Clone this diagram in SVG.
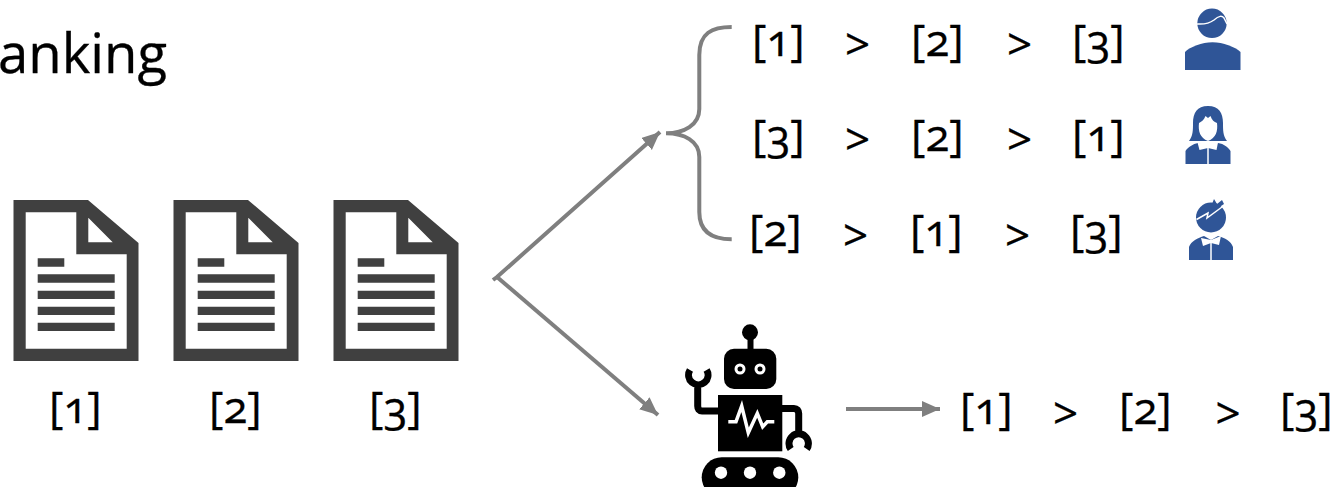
<svg xmlns="http://www.w3.org/2000/svg" width="1337" height="487" viewBox="0 0 1337 487">
<defs>
<style>
text{font-family:"Open Sans","Noto Sans","Liberation Sans",sans-serif;fill:#000;stroke:#000;stroke-width:.3px;font-size:44px;font-feature-settings:"onum";font-variant-numeric:oldstyle-nums}
.c{fill:none;stroke:#7f7f7f;stroke-width:4}
.b{fill:#2f5597}
.w{fill:none;stroke:#fff;stroke-width:1.5}
.d{fill:#404040}
.r{fill:#000}
</style>
<marker id="a" markerUnits="userSpaceOnUse" markerWidth="20" markerHeight="18" refX="18" refY="8" orient="auto"><path d="M0 0L18 8L0 16z" fill="#7f7f7f"/></marker>
<g id="docshape"><path class="d" fill-rule="evenodd" d="M13.5 200H88L138.5 243V361H13.5zM25.7 212.3V348.7H126.7V254.3H76.3V212.3zM88.3 217.7V242.3H112.7z"/><path class="d" d="M37.7 258.3H64.3V266.7H37.7zM37.7 274.3H114.7V282.7H37.7zM37.7 290.7H114.7V299H37.7zM37.7 306.7H114.7V315H37.7zM37.7 322.7H114.7V331H37.7z"/></g>
</defs>
<rect width="1337" height="487" fill="#fff"/>
<text id="title" x="-2" y="73" style="font-size:54.500px">anking</text>
<g id="connectors">
<path class="c" marker-end="url(#a)" d="M493 280L497 277L660 132"/>
<path class="c" marker-end="url(#a)" d="M497 277L658 415"/>
<path class="c" marker-end="url(#a)" d="M846 409H940"/>
<path class="c" d="M731.700 27C712 27 699.300 33 699.300 55V109C699.300 125 684 133.300 666 133.300C684 133.300 699.300 141 699.300 157V212C699.300 232 712 239.300 731.700 239.300"/>
</g>
<g id="doc1"><use href="#docshape"/><text x="49" y="423">[1]</text></g>
<g id="doc2"><use href="#docshape" x="160"/><text x="209" y="423">[2]</text></g>
<g id="doc3"><use href="#docshape" x="320"/><text x="369" y="423">[3]</text></g>
<g id="rank1"><text x="752" y="55.500">[1]</text><text x="845" y="59.500">&gt;</text><text x="911" y="55.500">[2]</text><text x="1007" y="59.500">&gt;</text><text x="1072" y="55.500">[3]</text></g>
<g id="rank2"><text x="752" y="151">[3]</text><text x="845" y="154.500">&gt;</text><text x="911" y="151">[2]</text><text x="1007" y="154.500">&gt;</text><text x="1072" y="151">[1]</text></g>
<g id="rank3"><text x="749" y="246">[2]</text><text x="843" y="250.500">&gt;</text><text x="910" y="246">[1]</text><text x="1005" y="250.500">&gt;</text><text x="1070" y="246">[3]</text></g>
<g id="rank4"><text x="960" y="424">[1]</text><text x="1053" y="428.500">&gt;</text><text x="1119" y="424">[2]</text><text x="1215.500" y="428.500">&gt;</text><text x="1280" y="424">[3]</text></g>
<g id="person1"><circle class="b" cx="1212" cy="23.300" r="14.700"/><path class="b" d="M1185 70V52C1190 47 1202 42.300 1212.500 42.300S1235 47 1240.500 52V70z"/><path class="w" d="M1197 24C1204 24.500 1210 23 1214 20C1219 15.500 1222 15.500 1224 18L1227 24"/></g>
<g id="person2"><path class="b" d="M1208 106C1197 106 1193 113 1193 123C1193 130 1193 136 1189 141H1227C1223 136 1223 130 1223 123C1223 113 1219 106 1208 106z"/><path fill="#fff" d="M1199 123C1201 122 1204 120 1205.500 116L1208 118L1210.500 116C1212 120 1214 122 1217 123C1218 131 1216 138 1208 141C1200 138 1198 131 1199 123z"/><path class="b" d="M1185.500 164V151C1188 147 1193 144 1198 143L1208 147L1218 143C1224 144 1228 147 1230.500 151V164z"/><path fill="#fff" d="M1197.500 142.500L1208 145.500L1218 142.500L1216.500 150L1208 148L1199.500 150z"/><path class="w" d="M1208 148V164"/></g>
<g id="person3"><circle class="b" cx="1211" cy="217.500" r="15"/><path class="b" d="M1212 204L1214 199L1217 204L1222 200L1224 204L1218 208z"/><path class="w" d="M1196.500 219.500L1208 213L1207 218L1222 207"/><path class="b" d="M1189 260V247C1191 241 1198 238 1204 236L1211 240L1218 236C1225 238 1231 241 1233 247V260z"/><path fill="#fff" d="M1201 238L1211 240L1221 236L1219 245L1211 243L1203 246z"/><path class="w" d="M1211 243V260"/></g>
<g id="robot">
<circle class="r" cx="750" cy="332.300" r="8"/><path class="r" d="M747.500 335H753.500V350H747.500z"/>
<rect class="r" x="724" y="348.700" width="52.300" height="40.300" rx="10"/>
<circle cx="740" cy="369" r="5.500" fill="#fff"/><circle class="r" cx="740" cy="369" r="2.500"/><circle cx="760" cy="369" r="5.500" fill="#fff"/><circle class="r" cx="760" cy="369" r="2.500"/>
<rect class="r" x="718" y="395" width="64.300" height="56.300"/>
<path d="M728.300 421.700H736L741.700 406L748.300 432.700L757.300 413.300L762.700 426.700L767.300 421.700H774.300" fill="none" stroke="#fff" stroke-width="3.500"/>
<path d="M718 411H702C699 411 697.700 409 697.700 406V385M782 408.500H794C797 408.500 798.700 410.500 798.700 413.500V434M690 370A9.700 9.700 0 1 0 706.600 370M790.700 449A9.700 9.700 0 1 1 806.700 449" fill="none" stroke="#000" stroke-width="7"/>
<rect class="r" x="701.700" y="457.300" width="96.600" height="40" rx="20"/>
<circle cx="721" cy="472.700" r="6.200" fill="#fff"/><circle cx="750" cy="472.700" r="6.200" fill="#fff"/><circle cx="779.300" cy="472.700" r="6.200" fill="#fff"/>
</g>
</svg>
